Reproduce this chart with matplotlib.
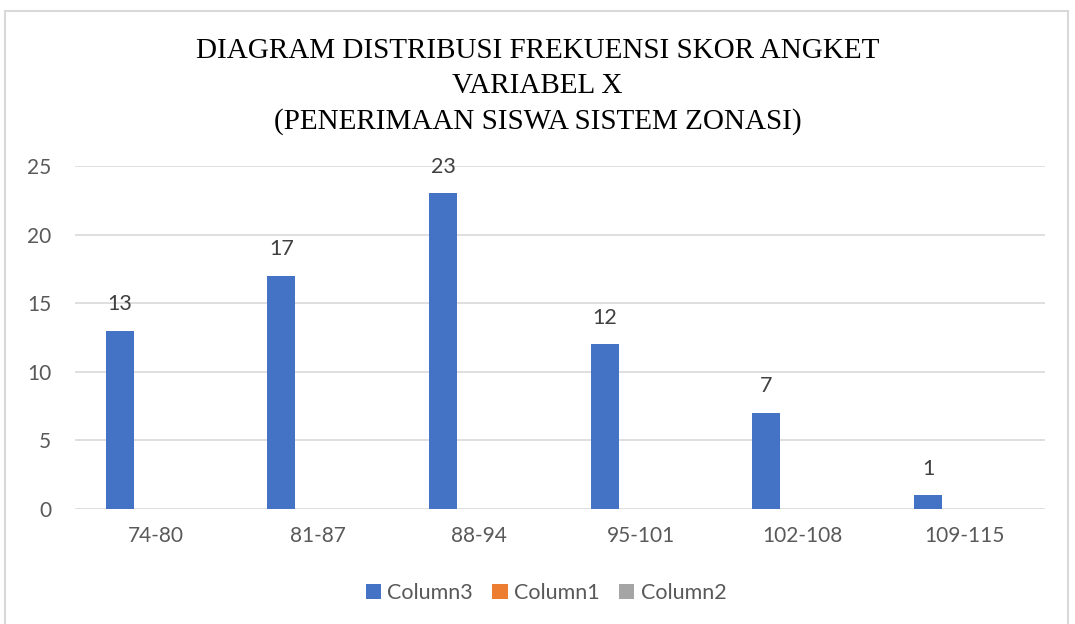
import numpy as np
import matplotlib
matplotlib.use("Agg")
import matplotlib.pyplot as plt
from matplotlib.patches import Rectangle

# Data
categories = ['74-80', '81-87', '88-94', '95-101', '102-108', '109-115']
column3 = [13, 17, 23, 12, 7, 1]
column1 = [0, 0, 0, 0, 0, 0]
column2 = [0, 0, 0, 0, 0, 0]
series_names = ['Column3', 'Column1', 'Column2']
series_colors = ['#4472C4', '#ED7D31', '#A5A5A5']

title = ('DIAGRAM DISTRIBUSI FREKUENSI SKOR ANGKET\n'
         'VARIABEL X\n'
         '(PENERIMAAN SISWA SISTEM ZONASI)')

text_color = '#595959'
sans = ['Lato', 'DejaVu Sans']

fig = plt.figure(figsize=(10.75, 6.24), dpi=100)
ax = fig.add_axes([75 / 1075, 1 - 509 / 624, (1045 - 75) / 1075, (509 - 166) / 624])

# chart border
fig.patches.append(Rectangle((5 / 1075, -0.02), 1063 / 1075, 1.02 - 11 / 624,
                             transform=fig.transFigure, fill=False,
                             edgecolor='#D9D9D9', linewidth=1.5))

x = np.arange(len(categories))
width = 0.173
offsets = [-0.223, 0.0, 0.223]
all_series = [column3, column1, column2]

for vals, off, name, col in zip(all_series, offsets, series_names, series_colors):
    ax.bar(x + off, vals, width=width, color=col, label=name, zorder=3)

# data labels for Column3
for xi, v in zip(x, column3):
    ax.text(xi + offsets[0], v + 1.2, str(v), ha='center', va='bottom',
            fontsize=15.5, color='#404040', family=sans)

ax.set_xlim(-0.5, len(categories) - 0.5)
ax.set_ylim(0, 25)
ax.set_yticks(range(0, 26, 5))
ax.set_xticks(x)
ax.set_xticklabels(categories)
ax.grid(axis='y', color='#D9D9D9', linewidth=1.2, zorder=0)
for s in ax.spines.values():
    s.set_visible(False)
ax.tick_params(length=0, labelsize=15, colors=text_color, pad=12)
ax.tick_params(axis='y', pad=17)
for lbl in ax.get_xticklabels() + ax.get_yticklabels():
    lbl.set_family(sans)

fig.text(0.5, 1 - 38 / 624, title, ha='center', va='top', fontsize=21,
         family=['Liberation Serif', 'DejaVu Serif'], color='black', linespacing=1.45)

leg = fig.legend(loc='center', bbox_to_anchor=(546 / 1075, 1 - 593 / 624), ncol=3,
                 frameon=False, prop={'family': sans, 'size': 15.5},
                 handlelength=0.7, handleheight=0.7, handletextpad=0.3,
                 columnspacing=0.9)
for t in leg.get_texts():
    t.set_color(text_color)

fig.savefig('out.png', dpi=100)
